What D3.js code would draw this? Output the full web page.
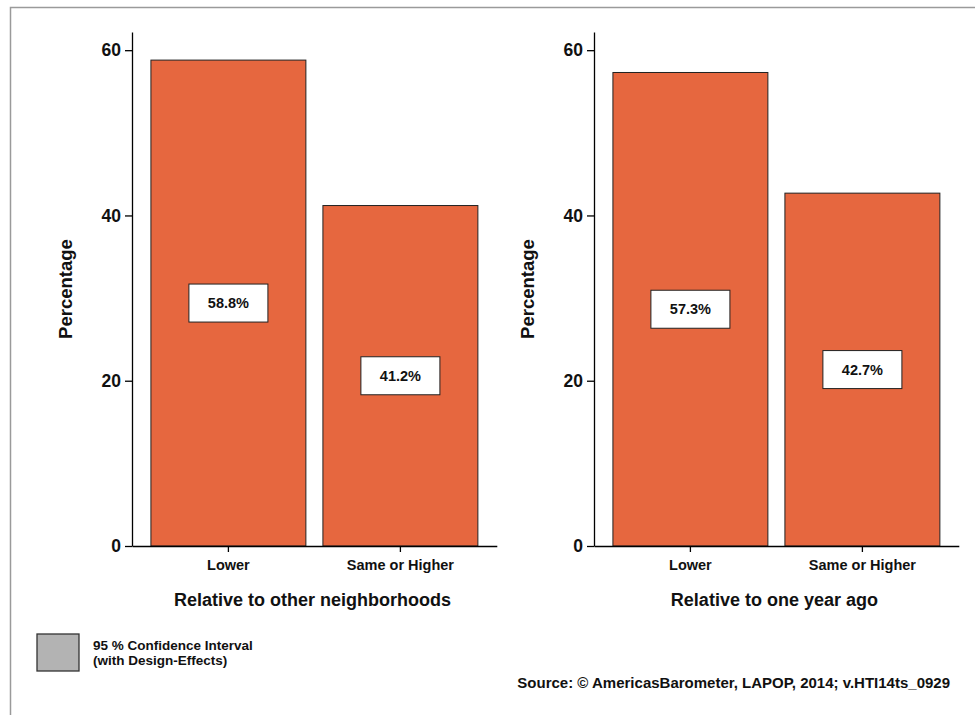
<!DOCTYPE html>
<html>
<head>
<meta charset="utf-8">
<script src="https://cdn.jsdelivr.net/npm/d3@7"></script>
<style>
  html, body { margin: 0; padding: 0; background: #fff; }
  svg { display: block; }
  text { font-family: "Liberation Sans", Arial, Helvetica, sans-serif; font-weight: bold; fill: #111; }
</style>
</head>
<body>
<svg id="chart" width="975" height="715"></svg>
<script>
// ---- data ----
const categories = ["Lower", "Same or Higher"];
const neighborhoodValues = [58.8, 41.2];
const yearAgoValues = [57.3, 42.7];
const panelTitles = ["Relative to other neighborhoods", "Relative to one year ago"];
const yTicks = [0, 20, 40, 60];
const yLabel = "Percentage";
const legendLines = ["95 % Confidence Interval", "(with Design-Effects)"];
const sourceText = "Source: \u00A9 AmericasBarometer, LAPOP, 2014; v.HTI14ts_0929";

const panels = [
  { title: panelTitles[0], values: neighborhoodValues },
  { title: panelTitles[1], values: yearAgoValues }
];

const svg = d3.select("#chart");
const barColor = "#E6673F";

// outer frame
svg.append("path")
  .attr("d", "M10.5,720 L10.5,7.5 L980,7.5")
  .attr("fill", "none").attr("stroke", "#9a9a9a").attr("stroke-width", 1.5);

const y = d3.scaleLinear().domain([0, 62.2]).range([546, 32]);

panels.forEach((p, i) => {
  const x0 = 132 + 462 * i;
  const g = svg.append("g");
  const x = d3.scaleBand().domain(categories)
    .range([x0, x0 + 364.8]).paddingInner(0.099).paddingOuter(0.11);

  // bars
  g.selectAll("rect.bar").data(categories).join("rect")
    .attr("class", "bar")
    .attr("x", d => x(d)).attr("width", x.bandwidth())
    .attr("y", (d, j) => y(p.values[j]))
    .attr("height", (d, j) => y(0) - y(p.values[j]))
    .attr("fill", barColor).attr("stroke", "#222").attr("stroke-width", 1);

  // value labels
  const lab = g.selectAll("g.lab").data(categories).join("g")
    .attr("class", "lab")
    .attr("transform", (d, j) => `translate(${x(d) + x.bandwidth() / 2},${(y(p.values[j]) + y(0)) / 2})`);
  lab.append("rect").attr("x", -39.5).attr("y", -19).attr("width", 79).attr("height", 38)
    .attr("fill", "#fff").attr("stroke", "#222").attr("stroke-width", 1);
  lab.append("text").attr("text-anchor", "middle").attr("dy", "0.36em")
    .style("font-size", "14.5px")
    .text((d, j) => p.values[j].toFixed(1) + "%");

  // y axis
  const yAxis = g.append("g").attr("transform", `translate(${x0},0)`)
    .call(d3.axisLeft(y).tickValues(yTicks).tickSize(7).tickPadding(4).tickSizeOuter(0));
  yAxis.select(".domain").attr("stroke", "#000").attr("stroke-width", 1.3);
  yAxis.selectAll(".tick line").attr("stroke", "#000").attr("stroke-width", 1.3);
  yAxis.selectAll(".tick text").style("font-size", "17.5px").style("font-family", "Liberation Sans, Arial, sans-serif").style("font-weight", "bold").attr("fill", "#111");

  // x axis
  const xAxis = g.append("g").attr("transform", `translate(0,${y(0)})`)
    .call(d3.axisBottom(x).tickSize(6).tickPadding(8).tickSizeOuter(0));
  xAxis.select(".domain").attr("stroke", "#000").attr("stroke-width", 1.3);
  xAxis.selectAll(".tick line").attr("stroke", "#000").attr("stroke-width", 1.3);
  xAxis.selectAll(".tick text").style("font-size", "14.5px").style("font-family", "Liberation Sans, Arial, sans-serif").style("font-weight", "bold").attr("fill", "#111");

  // x title
  const xr = x.range();
  g.append("text").attr("x", (xr[0] + xr[1]) / 2 - 2).attr("y", 606)
    .attr("text-anchor", "middle").style("font-size", "18px").text(p.title);

  // y title
  g.append("text")
    .attr("transform", `translate(${x0 - 67},${(y(0) + y.range()[1]) / 2}) rotate(-90)`)
    .attr("text-anchor", "middle").attr("dy", "0.36em")
    .style("font-size", "18.5px").text(yLabel);
});

// legend
svg.append("rect").attr("x", 37).attr("y", 634).attr("width", 42).attr("height", 37)
  .attr("fill", "#b3b3b3").attr("stroke", "#333").attr("stroke-width", 1.3);
svg.append("g").selectAll("text").data(legendLines).join("text")
  .attr("x", 93).attr("y", (d, i) => 649.5 + i * 15)
  .style("font-size", "13.5px").text(d => d);

// source
svg.append("text").attr("x", 950).attr("y", 688).attr("text-anchor", "end")
  .style("font-size", "15px").text(sourceText);
</script>
</body>
</html>
